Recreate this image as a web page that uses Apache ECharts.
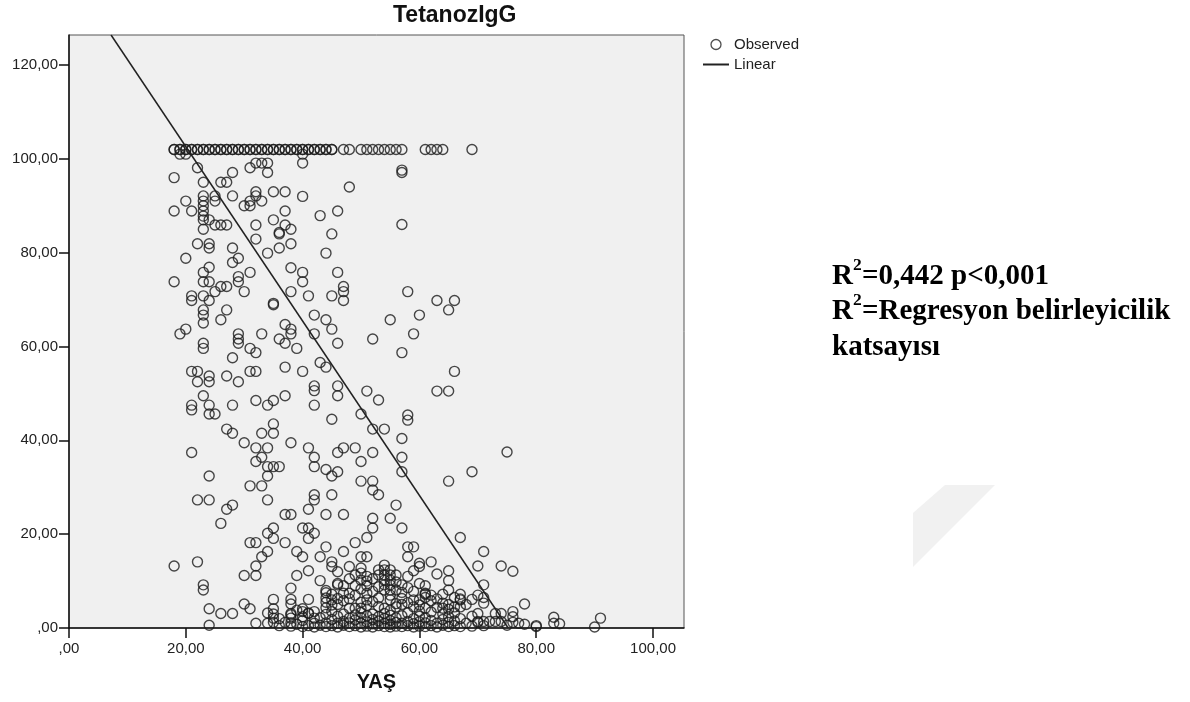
<!DOCTYPE html>
<html>
<head>
<meta charset="utf-8">
<script src="https://cdn.jsdelivr.net/npm/echarts@6/dist/echarts.min.js"></script>
<style>
  html, body { margin: 0; padding: 0; background: #fff; }
  #chart { width: 1190px; height: 702px; }
</style>
</head>
<body>
<div id="chart"></div>
<script>
// Observed points [YAŞ, TetanozIgG]
const obsTop = [
  [18,102],[19,102],[20,102],[21,102],[22,102],[23,102],[24,102],[25,102],[26,102],[27,102],
  [28,102],[29,102],[30,102],[31,102],[32,102],[33,102],[34,102],[35,102],[36,102],[37,102],
  [38,102],[39,102],[40,102],[41,102],[42,102],[43,102],[44,102],[45,102],[47,102],[48,102],
  [50,102],[51,102],[52,102],[53,102],[54,102],[55,102],[56,102],[57,102],[61,102],[62,102],
  [63,102],[64,102],[69,102],[19,101],[20,101],[40,101],
  // repeated subjects at the ceiling value
  [18,102],[19,102],[20,102],[21,102],[22,102],[23,102],[24,102],[25,102],[26,102],[27,102],
  [28,102],[29,102],[30,102],[31,102],[32,102],[33,102],[34,102],[35,102],[36,102],[37,102],
  [38,102],[39,102],[40,102],[41,102],[42,102],[43,102],[44,102],[45,102]
];
const obsUpper = [
  [18,96],[22,98.1],[28,97.1],[31,98.1],[32,99.1],[33,99.1],[34,99.1],[34,97.1],[40,99.1],[57,97.1],[57,97.6],
  [23,95],[26,95],[27,95],[48,94],[20,91],[18,88.9],[21,88.9],
  [23,92.1],[23,91],[23,90],[23,88.9],[23,87.8],[23,87],[24,87],[23,85],
  [25,92.1],[25,91],[25,85.9],[26,85.9],[27,85.9],[28,92.1],[30,90],[31,90],[31,91],[32,92.1],[32,93],[33,91],
  [35,93],[37,93],[40,92],[37,88.9],[43,87.9],[46,88.9],[32,85.9],[35,87],[37,85.9],[38,85],[36,84],[36,84.3],
  [32,82.9],[38,81.9],[45,84],[57,86],[22,81.9],[24,81.9],[24,81],[28,81],[29,78.8],[28,77.9],[20,78.8],[34,79.9],[36,81],[44,79.9],
  [31,75.8],[23,75.8],[24,76.9],[23,73.8],[24,73.8],[18,73.8],[29,74.9],[29,73.8],[26,72.8],[27,72.8],[25,71.7],[30,71.7],
  [38,76.8],[40,75.8],[40,73.8],[38,71.7],[41,70.8],[45,70.8],[46,75.8],[47,72.8],[47,71.7],[47,69.8],[58,71.7],
  [35,68.9],[35,69.2],[21,70.8],[21,69.8],[23,70.8],[24,69.8],[23,67.8],[23,66.7],[23,65],[27,67.8],[26,65.7],
  [42,66.7],[44,65.7],[63,69.8],[66,69.8],[65,67.8],[55,65.7],[60,66.7],
  [37,64.7],[38,63.7],[38,62.7],[42,62.7],[45,63.7],[46,60.7],[52,61.6],[59,62.7],
  [19,62.7],[20,63.7],[29,62.7],[29,61.6],[29,60.7],[33,62.7],[23,60.7],[23,59.6],[31,59.6],[32,58.7],[36,61.6],[37,60.7],[39,59.6],[57,58.7],
  [28,57.6],[37,55.6],[40,54.7],[43,56.6],[44,55.6],[21,54.7],[22,54.7],[24,53.7],[27,53.7],[31,54.7],[32,54.7],[66,54.7]
];
const obsMiddle = [
  [22,52.5],[24,52.5],[29,52.5],[42,51.6],[42,50.6],[46,51.6],[46,49.5],[51,50.5],[63,50.5],[65,50.5],
  [53,48.6],[23,49.5],[24,47.5],[24,45.6],[25,45.6],[21,47.5],[21,46.5],[28,47.5],[32,48.5],[34,47.5],[35,48.5],[37,49.5],[42,47.5],
  [45,44.5],[50,45.6],[58,45.4],[58,44.3],[52,42.4],[54,42.4],[27,42.4],[28,41.5],[30,39.5],[32,38.4],[33,41.5],[34,38.4],[35,43.5],[35,41.5],
  [38,39.5],[41,38.4],[42,36.4],[42,34.4],[46,37.4],[47,38.4],[49,38.4],[50,35.5],[52,37.4],[57,40.4],[57,36.4],[75,37.5],
  [44,33.8],[45,32.4],[46,33.3],[50,31.3],[52,29.4],[52,31.3],[53,28.4],[57,33.3],[69,33.3],[65,31.3],
  [21,37.4],[24,32.4],[32,35.5],[33,36.4],[34,34.4],[35,34.4],[36,34.4],[34,32.4],[31,30.3],[33,30.3],
  [22,27.3],[24,27.3],[27,25.3],[28,26.2],[26,22.3],[34,27.3],[37,24.2],[38,24.2],[41,25.3],[42,28.4],[42,27.3],[45,28.4],[44,24.2],[47,24.2],[56,26.2],
  [34,20.2],[35,21.3],[40,21.3],[41,21.3],[42,20.2],[52,21.3],[52,23.4],[55,23.4],[57,21.3]
];
const obsLower = [
  [31,18.2],[32,18.2],[35,19.1],[37,18.2],[41,19.1],[49,18.2],[51,19.3],[67,19.3],
  [18,13.2],[22,14.1],[23,9.2],[23,8.1],[30,11.2],[32,11.2],[32,13.2],[33,15.2],[34,16.3],[39,16.3],[40,15.2],[44,17.3],[43,15.2],[47,16.3],[50,15.2],[51,15.2],[58,17.3],[59,17.3],[58,15.2],[71,16.3],
  [45,14.1],[45,13.1],[48,13.1],[50,12.8],[50,11.7],[46,12],[39,11.2],[41,12.2],[43,10.1],[46,9.2],[49,11.3],[50,10.2],[51,11],[51,10],[53,12.4],[53,11.3],
  [62,14.1],[60,13.1],[60,13.8],[59,12.2],[74,13.2],[76,12.1],[70,13.2],[65,12.2],[65,10.1],[65,8.1],[71,9.2],
  [54,13.4],[54,12.4],[54,11.3],[54,10.2],[54,9.2],[54,8.1],[55,12.4],[55,11.3],[55,10.2],[55,9.2],[55,8.1],[55,7],[56,11.3],[56,8.1],[55,6],[57,6.3],[57,9.2],[59,6],[60,4.9],[61,7.4],
  [30,5.1],[31,4.1],[24,4.1],[35,6.1],[35,4.1],[38,8.5],[38,6.1],[38,5.1],[41,6.1],[40,4.1],[44,7.5],[44,6.4],[45,6],[45,4.9],[44,4.3],[46,9.5],[47,7.4],[48,7.4],[48,4.2],[49,4.2],[50,4.2],[51,6],[51,7.4],[53,4.6],
  [61,7.2],[64,7.2],[67,7.2],[67,6],[69,6.1],[70,7],[71,5.3],[78,5.1],[61,6.5],[64,5.3],[67,6.2],[71,6.5],
  [44,5.5],[44,8],[45,7.2],[46,5],[46,6.3],[47,9],[47,5.8],[48,6.2],[48,10.5],[49,7],[49,9],[50,5.5],[50,8.3],[51,9],[51,4.8],
  [52,5.6],[52,7.8],[52,10.5],[53,6.4],[53,8.8],[56,5.2],[56,9.8],[57,5],[57,7.6],[58,5.4],[58,8.6],[58,11],[59,4.5],[59,7.8],
  [60,6],[60,9.5],[61,4.2],[61,9],[62,5.8],[62,7],[63,4.4],[63,6.2],[63,11.5],[64,4.2],[66,4.5],[66,6.5],[68,5],[65,5]
];
const obsFloor = [
  [26,3.1],[28,3.1],[24,0.6],[32,1],[34,1],[34,3.2],[35,3],[35,2.1],[35,1.2],[38,3.1],[38,2.1],[41,3.1],[42,2.1],[40,3.5],[42,3.5],
  [70,3.1],[73,3.1],[74,3.1],[76,3.5],[76,2.4],[76,1.2],[83,2.3],[91,2.1],[90,0.2],[83,1],[84,0.9],[80,0.5],[80,0.3],[78,0.8],
  [70,1.4],[71,1.4],[72,1.4],[73,1.4],[74,1.4],[75,0.6],[77,1],
  [36,0.5],[36,2],[37,1.2],[38,0.4],[38,1.1],[38,2.8],[39,0.8],[39,3.8],[40,0.3],[40,1.6],[40,2.4],[41,0.5],[41,3.2],[42,1],[42,0.2],
  [43,0.6],[43,2.2],[44,0.3],[44,1.1],[44,2.9],[45,0.5],[45,1.8],[45,3.5],[46,0.2],[46,1],[46,2.5],[47,0.6],[47,1.4],[47,3],
  [48,0.3],[48,1.1],[48,2.1],[49,0.5],[49,1.7],[49,2.8],[50,0.2],[50,1],[50,2.2],[50,3.3],[51,0.4],[51,1.3],[51,2.6],
  [52,0.2],[52,0.9],[52,1.8],[52,3],[53,0.5],[53,1.5],[53,2.4],[54,0.3],[54,1],[54,2],[54,3.1],[54,4.2],
  [55,0.2],[55,0.8],[55,1.6],[55,2.7],[55,3.8],[56,0.4],[56,1.2],[56,2.2],[56,4.5],[57,0.3],[57,1],[57,2.6],
  [58,0.5],[58,1.4],[58,3.2],[59,0.2],[59,0.9],[59,2],[60,0.4],[60,1.3],[60,2.5],[60,3.6],[61,0.3],[61,1.1],[61,2.2],
  [62,0.5],[62,1.6],[62,3.4],[63,0.2],[63,1],[64,0.6],[64,1.8],[64,3],[65,0.3],[65,1.2],[65,2.4],[65,4],
  [66,0.5],[66,1.5],[66,3.2],[67,0.3],[67,2],[67,4.5],[68,1],[69,0.4],[69,2.5],[70,1.2],[71,0.5]
];

// Linear fit, where the line enters and leaves the plot
const fitAge = [7.2, 75.2];
const fitIgg = [126.4, 0];

const xTicks = [0, 20, 40, 60, 80, 100];
const yTicks = [0, 20, 40, 60, 80, 100, 120];

const chart = echarts.init(document.getElementById('chart'));

const fmt = v => (v === 0 ? ',00' : v + ',00');
const axisFont = { fontFamily: 'Liberation Sans', fontSize: 15, color: '#222' };

// bold serif note on the right
function note(x, y, text, size) {
  return {
    type: 'text', x: x, y: y,
    style: {
      text: text, fill: '#000', verticalAlign: 'middle',
      fontFamily: 'Liberation Serif', fontWeight: 'bold', fontSize: size
    }
  };
}

const option = {
  animation: false,
  backgroundColor: '#fff',
  title: {
    text: 'TetanozIgG',
    left: 393,
    top: 4,
    padding: 0,
    textStyle: { fontFamily: 'Liberation Sans', fontSize: 23, fontWeight: 'bold', color: '#111' }
  },
  legend: {
    orient: 'vertical',
    left: 702,
    top: 37,
    padding: 0,
    itemWidth: 26,
    itemHeight: 10,
    itemGap: 5,
    textStyle: { fontFamily: 'Liberation Sans', fontSize: 15, color: '#222' },
    data: [
      { name: 'Observed', icon: 'circle', itemStyle: { color: 'transparent', borderColor: '#222', borderWidth: 1.3 } },
      { name: 'Linear', itemStyle: { color: 'transparent', borderWidth: 0, opacity: 0 } }
    ]
  },
  grid: {
    left: 69, right: 506, top: 35, bottom: 74,
    show: true,
    backgroundColor: '#f0f0f0',
    borderColor: '#555',
    borderWidth: 1,
    containLabel: false,
    outerBoundsMode: 'none'
  },
  xAxis: {
    type: 'value',
    min: 0,
    max: 105.3,
    name: 'YAŞ',
    nameLocation: 'middle',
    nameGap: 44,
    nameTextStyle: { fontFamily: 'Liberation Sans', fontSize: 20, fontWeight: 'bold', color: '#111' },
    axisLine: { show: true, lineStyle: { color: '#111', width: 1.5 } },
    axisTick: { show: true, length: 10, customValues: xTicks, lineStyle: { color: '#111', width: 1.5 } },
    axisLabel: Object.assign({ customValues: xTicks, formatter: fmt, margin: 13 }, axisFont),
    splitLine: { show: false }
  },
  yAxis: {
    type: 'value',
    min: 0,
    max: 126.4,
    axisLine: { show: true, lineStyle: { color: '#111', width: 1.5 } },
    axisTick: { show: true, length: 10, customValues: yTicks, lineStyle: { color: '#111', width: 1.5 } },
    axisLabel: Object.assign({ customValues: yTicks, formatter: fmt, margin: 11 }, axisFont),
    splitLine: { show: false }
  },
  series: [
    {
      name: 'Observed',
      type: 'scatter',
      symbol: 'circle',
      symbolSize: 10,
      itemStyle: { color: 'transparent', borderColor: '#1a1a1a', borderWidth: 1.4 },
      data: [].concat(obsTop, obsUpper, obsMiddle, obsLower, obsFloor),
      z: 2
    },
    {
      name: 'Linear',
      type: 'line',
      symbol: 'none',
      clip: true,
      lineStyle: { color: '#222', width: 1.5 },
      data: fitAge.map((a, i) => [a, fitIgg[i]]),
      z: 3
    }
  ],
  graphic: [
    // faint watermark shape in the lower right
    { type: 'polygon', z: -1, shape: { points: [[913, 513], [945, 485], [995, 485], [913, 567]] }, style: { fill: '#f1f1f1' } },
    note(832, 277, 'R', 29),
    note(853, 265, '2', 17.5),
    note(862, 277, '=0,442 p<0,001', 29),
    note(832, 312, 'R', 29),
    note(853, 300, '2', 17.5),
    note(862, 312, '=Regresyon belirleyicilik', 29),
    note(832, 348, 'katsayısı', 29)
  ]
};

chart.setOption(option);
</script>
</body>
</html>
